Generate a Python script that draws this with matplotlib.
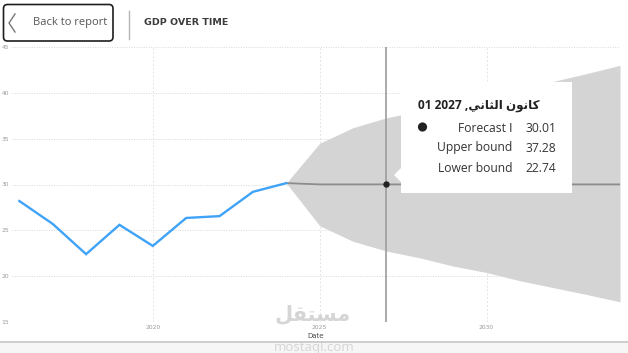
import matplotlib
matplotlib.use("Agg")
import matplotlib.pyplot as plt
from matplotlib.patches import FancyBboxPatch, Polygon, Circle, Rectangle
from matplotlib.lines import Line2D
from matplotlib.transforms import Affine2D

# ---------------- data ----------------
hist_years = [2016, 2017, 2018, 2019, 2020, 2021, 2022, 2023, 2024]
hist_gdp = [28.2, 25.7, 22.4, 25.6, 23.3, 26.35, 26.55, 29.2, 30.15]

fc_years = [2024, 2025, 2026, 2027, 2028, 2029, 2030, 2031, 2032, 2033, 2034]
fc_mid = [30.15, 30.01, 30.01, 30.01, 30.01, 30.01, 30.01, 30.01, 30.01, 30.01, 30.01]
fc_upper = [30.15, 34.5, 36.2, 37.28, 38.0, 38.9, 39.6, 40.5, 41.25, 42.1, 43.0]
fc_lower = [30.15, 25.5, 23.8, 22.74, 22.0, 21.1, 20.4, 19.5, 18.75, 18.0, 17.2]

y_ticks = [15, 20, 25, 30, 35, 40, 45]
x_ticks = [2020, 2025, 2030]
x_tick_labels = ["2020", "2025", "2030"]

hover_year = 2027
hover_value = 30.01
tip_labels = ["Forecast \u0627", "Upper bound", "Lower bound"]
tip_values = ["30.01", "37.28", "22.74"]
# title "كانون الثاني, 2027 01" in visual (shaped) order
tip_title = "01 2027 ," + "\uFEF2\uFEE7\uFE8E\uFE9C\uFEDF\uFE8D" + " " + "\uFEE5\uFEEE\uFEE7\uFE8E\uFEDB"
header_title = "GDP OVER TIME"
back_text = "Back to report"
wm_ar = "\uFEDE\uFED8\uFE98\uFEB4\uFEE3"   # مستقل (shaped, visual order)
wm_en = "mostaql.com"

W, H = 628, 353
fig = plt.figure(figsize=(W / 100, H / 100), dpi=100)
fig.patch.set_facecolor("white")

# pixel transform: x from left, y from bottom
PX = Affine2D().scale(1 / 100.0) + fig.dpi_scale_trans


def py(y):
    return H - y


# ---------------- axes ----------------
ax = fig.add_axes([12 / W, 1 - 322 / H, 608 / W, (322 - 47) / H])
ax.set_xlim(2015.78, 2034.0)
ax.set_ylim(15, 45)
for s in ax.spines.values():
    s.set_visible(False)
ax.set_yticks(y_ticks)
ax.set_yticklabels([str(v) for v in y_ticks])
ax.set_xticks(x_ticks)
ax.set_xticklabels(x_tick_labels)
ax.tick_params(axis="both", length=0, labelsize=4.3, colors="#9a9a9a")
ax.tick_params(axis="y", pad=2)
ax.tick_params(axis="x", pad=2.5)
ax.set_axisbelow(True)
ax.yaxis.grid(True, color="#d8d8d8", linestyle=(0, (1, 1.5)), linewidth=0.7)
ax.xaxis.grid(True, color="#e4e4e4", linestyle=(0, (2, 2)), linewidth=0.7)
ax.set_xlabel("Date", fontsize=5, color="#4a4a4a", labelpad=2.0, family="DejaVu Sans")

ax.fill_between(fc_years, fc_lower, fc_upper, color="#d4d4d4", linewidth=0, zorder=2)
ax.plot(fc_years, fc_mid, color="#8c8c8c", linewidth=1.3, zorder=3)
ax.plot(hist_years, hist_gdp, color="#3fa3f7", linewidth=1.7, zorder=4,
        solid_joinstyle="miter")
ax.axvline(hover_year, color="#9c9c9c", linewidth=1.2, zorder=5)
ax.plot([hover_year], [hover_value], marker="o", markersize=3.6, color="#222222", zorder=6)

# ---------------- header ----------------
box = FancyBboxPatch((3.5, py(41)), 109.5, 36.5, boxstyle="round,pad=0,rounding_size=4",
                     transform=PX, facecolor="white", edgecolor="#1e1e1e", linewidth=1.2)
fig.add_artist(box)
fig.add_artist(Line2D([15, 9, 15], [py(14), py(23), py(32)], transform=PX,
                      color="#777777", linewidth=1.0))
fig.text(33, py(23), back_text, transform=PX, fontsize=8.0, color="#555555",
         family="Open Sans", ha="left", va="center")
fig.add_artist(Line2D([129, 129], [py(11), py(39)], transform=PX, color="#b5b5b5", linewidth=1.0))
fig.text(144, py(22.5), header_title, transform=PX, fontsize=6.8, color="#3c3c3c",
         family="DejaVu Sans", weight="bold", ha="left", va="center")

# ---------------- tooltip ----------------
tip = Rectangle((401, py(193)), 171, 111, transform=PX, facecolor="white",
                edgecolor="none", zorder=10)
fig.add_artist(tip)
fig.add_artist(Polygon([[402, py(167)], [394, py(175)], [402, py(183)]], closed=True,
                       transform=PX, facecolor="white", edgecolor="none", zorder=10))
fig.text(418, py(105), tip_title, transform=PX, fontsize=8.6, color="#222222",
         family=["Open Sans", "DejaVu Sans"], weight="bold", ha="left", va="center", zorder=11)
fig.add_artist(Circle((422.5, py(127)), 4.6, transform=PX, facecolor="#222222",
                      edgecolor="none", zorder=11))
row_y = [128, 148, 168]
for lab, val, yy in zip(tip_labels, tip_values, row_y):
    fig.text(512, py(yy), lab, transform=PX, fontsize=8.7, color="#333333",
             family=["Open Sans", "DejaVu Sans"], ha="right", va="center", zorder=11)
    fig.text(525, py(yy), val, transform=PX, fontsize=8.7, color="#333333",
             family="Open Sans", ha="left", va="center", zorder=11)

# ---------------- bottom band ----------------
fig.add_artist(Rectangle((0, 0), W, py(342), transform=PX, facecolor="#f6f6f6",
                         edgecolor="none", zorder=1))
fig.add_artist(Line2D([0, W], [py(342), py(342)], transform=PX, color="#c9c9c9",
                      linewidth=1.3, zorder=2))

# ---------------- watermark ----------------
fig.text(313, py(314), wm_ar, transform=PX, fontsize=15, color="#c8c8c8", alpha=0.75,
         family="DejaVu Sans", weight="bold", ha="center", va="center", zorder=20)
fig.text(314, py(347.5), wm_en, transform=PX, fontsize=9.5, color="#cccccc", alpha=0.8,
         family="Open Sans", ha="center", va="center", zorder=20)

fig.savefig("out.png", dpi=100)
